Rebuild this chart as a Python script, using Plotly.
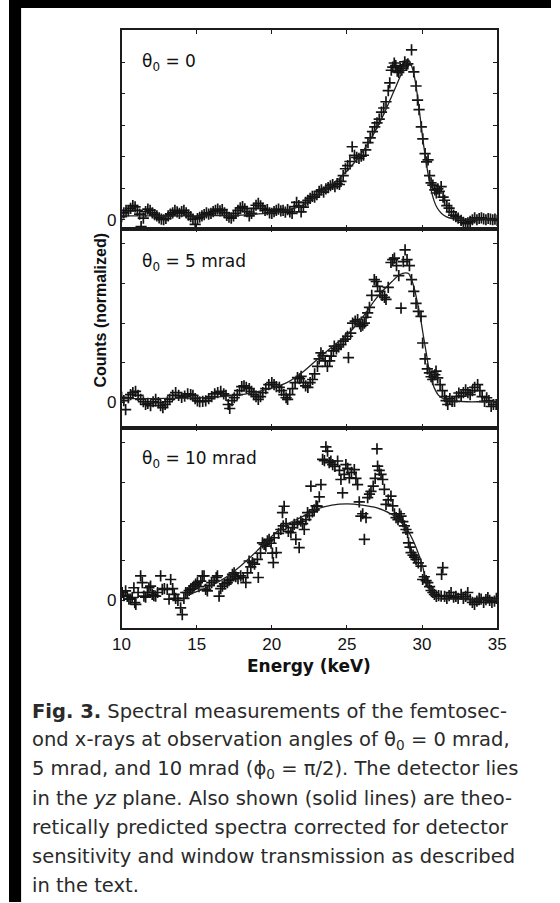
import plotly.graph_objects as go

# ---------------- data ----------------
# Panel 1: theta0 = 0
E1 = [10.0, 10.15, 10.3, 10.45, 10.6, 10.75, 10.9, 11.05, 11.2, 11.3, 11.45, 11.6, 11.75, 11.9, 12.05,
      12.2, 12.35, 12.5, 12.65, 12.8, 12.95, 13.1, 13.25, 13.4, 13.55, 13.7, 13.85, 14.0, 14.15, 14.3,
      14.45, 14.6, 14.75, 14.9, 15.05, 15.2, 15.35, 15.5, 15.65, 15.8, 15.95, 16.1, 16.25, 16.4, 16.55,
      16.7, 16.85, 17.0, 17.15, 17.3, 17.45, 17.6, 17.75, 17.9, 18.05, 18.2, 18.35, 18.5, 18.65, 18.8,
      18.95, 19.1, 19.25, 19.4, 19.55, 19.7, 19.85, 20.0, 20.15, 20.3, 20.45, 20.6, 20.75, 20.9, 21.05,
      21.2, 21.35, 21.5, 21.65, 21.8, 21.95, 22.1, 22.25, 22.4, 22.55, 22.7, 22.85, 23.0, 23.15, 23.3,
      23.45, 23.6, 23.75, 23.9, 24.05, 24.2, 24.35, 24.5, 24.6, 24.75, 24.9, 25.05, 25.2, 25.35, 25.5,
      25.65, 25.8, 25.95, 26.1, 26.25, 26.4, 26.55, 26.7, 26.85, 27.0, 27.15, 27.3, 27.45, 27.6, 27.75,
      27.85, 27.95, 28.05, 28.15, 28.25, 28.35, 28.45, 28.55, 28.65, 28.75, 28.85, 28.95, 29.05, 29.3,
      29.45, 29.6, 29.7, 29.8, 29.95, 30.05, 30.2, 30.3, 30.4, 30.5, 30.6, 30.72, 30.85, 30.95, 31.05,
      31.15, 31.27, 31.4, 31.5, 31.65, 31.8, 31.95, 32.1, 32.25, 32.4, 32.6, 32.75, 32.9, 33.05, 33.2,
      33.35, 33.5, 33.65, 33.8, 33.95, 34.1, 34.25, 34.4, 34.55, 34.7, 34.85, 35.0]
C1 = [0.10, 0.22, 0.30, 0.28, 0.36, 0.45, 0.41, 0.30, 0.18, -0.22, 0.05, 0.26, 0.34, 0.30, 0.22,
      0.16, 0.12, 0.06, 0.02, 0.00, 0.04, 0.12, 0.18, 0.22, 0.30, 0.25, 0.20, 0.26, 0.30, 0.22,
      0.15, 0.10, 0.02, -0.15, 0.04, 0.08, 0.12, 0.16, 0.22, 0.18, 0.20, 0.26, 0.30, 0.34, 0.28,
      0.32, 0.22, 0.14, 0.08, 0.05, 0.12, 0.20, 0.30, 0.38, 0.42, 0.35, 0.26, 0.12, 0.20, 0.36,
      0.46, 0.52, 0.44, 0.36, 0.30, 0.32, 0.22, 0.20, 0.26, 0.30, 0.34, 0.28, 0.30, 0.24, 0.32,
      0.25, 0.20, 0.42, 0.55, 0.45, 0.25, 0.40, 0.55, 0.62, 0.68, 0.74, 0.72, 0.80, 0.90, 0.95,
      0.88, 0.98, 1.02, 1.08, 1.12, 1.05, 1.15, 1.12, 1.22, 1.40, 1.62, 1.72, 1.85, 2.32, 2.05,
      1.98, 1.95, 2.02, 2.05, 2.22, 2.45, 2.60, 2.80, 2.95, 3.08, 3.20, 3.42, 3.55, 3.75, 4.10,
      4.35, 4.75, 4.85, 4.98, 4.90, 4.72, 4.68, 4.82, 4.75, 4.88, 5.02, 4.92, 4.95, 5.40,
      4.70, 4.25, 3.80, 3.50, 2.95, 2.57, 2.10, 1.84, 1.90, 1.40, 1.17, 1.10, 0.95, 0.85, 0.98,
      0.90, 1.05, 0.72, 0.62, 0.45, 0.37, 0.25, 0.15, 0.10, 0.05, -0.02, -0.08, -0.12, -0.10, -0.05,
      0.00, 0.06, 0.00, 0.04, 0.06, 0.03, 0.00, 0.04, 0.02, 0.00, 0.02, -0.02]
L1E = [10, 12, 14, 16, 18, 19, 20, 21, 22, 22.5, 23, 23.5, 24, 24.5, 25, 25.5, 26, 26.5, 27, 27.5,
       28, 28.5, 28.8, 29.0, 29.1, 29.2, 29.4, 29.6, 29.8, 30.0, 30.2, 30.4, 30.6, 30.8, 31.0, 31.3,
       31.6, 32, 33, 34, 35]
L1V = [0.12, 0.12, 0.12, 0.13, 0.15, 0.18, 0.22, 0.30, 0.45, 0.60, 0.78, 0.95, 1.12, 1.32, 1.55,
       1.82, 2.13, 2.50, 2.92, 3.40, 3.95, 4.50, 4.85, 5.05, 5.08, 5.00, 4.75, 4.25, 3.55, 2.75,
       2.05, 1.45, 0.95, 0.60, 0.38, 0.20, 0.10, 0.04, 0.02, 0.02, 0.02]

# Panel 2: theta0 = 5 mrad
E2 = [10.0, 10.15, 10.27, 10.45, 10.6, 10.75, 10.93, 11.1, 11.27, 11.45, 11.6, 11.75, 11.93, 12.1, 12.27,
      12.45, 12.6, 12.75, 12.9, 13.05, 13.2, 13.4, 13.6, 13.8, 14.0, 14.2, 14.4, 14.6, 14.75, 14.9,
      15.05, 15.2, 15.4, 15.6, 15.8, 16.0, 16.2, 16.4, 16.6, 16.8, 16.95, 17.1, 17.2, 17.35, 17.5,
      17.7, 17.85, 18.0, 18.15, 18.3, 18.5, 18.65, 18.8, 18.95, 19.1, 19.25, 19.4, 19.6, 19.8, 20.0,
      20.15, 20.3, 20.5, 20.65, 20.8, 20.95, 21.05, 21.2, 21.38, 21.55, 21.71, 21.85, 21.95, 22.1, 22.25,
      22.4, 22.55, 22.71, 22.85, 23.04, 23.15, 23.27, 23.4, 23.55, 23.7, 23.85, 23.95, 24.1, 24.16, 24.3,
      24.45, 24.6, 24.75, 24.9, 25.04, 25.1, 25.25, 25.38, 25.55, 25.71, 25.85, 25.93, 26.05, 26.16, 26.27,
      26.38, 26.5, 26.65, 26.82, 26.95, 27.04, 27.2, 27.35, 27.5, 27.6, 27.75, 27.93, 28.05, 28.16, 28.3,
      28.45, 28.6, 28.75, 28.87, 29.0, 29.16, 29.3, 29.45, 29.6, 29.75, 29.93, 30.04, 30.2, 30.35, 30.49,
      30.6, 30.71, 30.85, 30.93, 31.04, 31.2, 31.35, 31.5, 31.6, 31.71, 31.85, 32.0, 32.16, 32.3, 32.45,
      32.6, 32.75, 32.9, 33.05, 33.2, 33.35, 33.5, 33.7, 33.85, 34.0, 34.16, 34.3, 34.45, 34.6, 34.75,
      34.93]
C2 = [0.13, 0.05, -0.18, 0.12, 0.20, 0.25, 0.28, 0.18, 0.08, 0.02, -0.05, -0.02, -0.08, 0.02, 0.08,
      0.00, -0.08, -0.13, -0.05, 0.02, 0.08, 0.18, 0.25, 0.18, 0.13, 0.16, 0.22, 0.20, 0.18, 0.10,
      0.04, 0.02, 0.03, 0.04, 0.10, 0.15, 0.22, 0.25, 0.28, 0.22, 0.18, -0.05, -0.15, 0.05, 0.12,
      0.20, 0.30, 0.40, 0.42, 0.38, 0.35, 0.28, 0.20, 0.15, 0.08, 0.15, 0.25, 0.35, 0.45, 0.50,
      0.45, 0.40, 0.38, 0.30, 0.20, 0.12, 0.08, 0.20, 0.35, 0.50, 0.63, 0.60, 0.66, 0.50, 0.42,
      0.38, 0.50, 0.58, 0.72, 0.91, 1.10, 1.25, 1.18, 1.05, 0.91, 1.05, 1.17, 1.30, 1.42, 1.35,
      1.40, 1.46, 1.55, 1.60, 1.67, 1.13, 1.75, 2.00, 2.05, 2.09, 1.98, 1.92, 1.95, 2.00, 2.15,
      2.26, 2.40, 2.70, 3.10, 3.05, 2.93, 2.80, 2.70, 2.65, 2.60, 2.90, 3.53, 3.60, 3.64, 3.45,
      3.20, 2.38, 3.55, 3.85, 3.60, 3.45, 3.10, 2.80, 2.50, 2.30, 2.17, 1.50, 1.10, 0.85, 0.75,
      0.65, 0.58, 0.70, 0.79, 0.62, 0.45, 0.30, 0.15, 0.05, -0.05, 0.10, 0.03, 0.03, 0.15, 0.24,
      0.16, 0.25, 0.32, 0.25, 0.20, 0.30, 0.38, 0.45, 0.30, 0.15, 0.03, 0.12, 0.05, -0.10, -0.05,
      -0.05]
L2E = [10, 12, 14, 16, 17, 18, 19, 20, 21, 22, 23, 24, 25, 26, 27, 28, 28.5, 28.9, 29.1, 29.3, 29.5,
       29.7, 29.9, 30.1, 30.3, 30.5, 30.7, 30.9, 31.1, 31.5, 32, 33, 34, 35]
L2V = [0.10, 0.10, 0.11, 0.13, 0.16, 0.20, 0.27, 0.36, 0.50, 0.75, 1.08, 1.40, 1.70, 2.13, 2.65,
       3.05, 3.22, 3.27, 3.25, 3.10, 2.85, 2.50, 2.12, 1.65, 1.20, 0.75, 0.48, 0.30, 0.18, 0.08,
       0.04, 0.02, 0.02, 0.02]

# Panel 3: theta0 = 10 mrad
E3 = [10.04, 10.15, 10.27, 10.38, 10.49, 10.6, 10.71, 10.82, 10.88, 10.95, 11.1, 11.27, 11.38, 11.49, 11.6,
      11.72, 11.82, 11.93, 12.04, 12.15, 12.27, 12.4, 12.6, 12.71, 12.85, 13.04, 13.16, 13.27, 13.4, 13.5,
      13.6, 13.75, 13.93, 14.04, 14.15, 14.27, 14.38, 14.5, 14.6, 14.72, 14.82, 14.93, 15.05, 15.15, 15.27,
      15.38, 15.49, 15.6, 15.71, 15.85, 16.0, 16.16, 16.3, 16.38, 16.49, 16.6, 16.71, 16.85, 17.04, 17.15,
      17.27, 17.38, 17.49, 17.6, 17.75, 17.93, 18.1, 18.27, 18.38, 18.49, 18.6, 18.71, 18.85, 19.04, 19.1,
      19.25, 19.38, 19.49, 19.6, 19.71, 19.82, 19.95, 20.04, 20.1, 20.16, 20.3, 20.45, 20.6, 20.71, 20.76,
      20.82, 20.95, 21.1, 21.27, 21.38, 21.49, 21.6, 21.71, 21.82, 21.93, 22.05, 22.16, 22.27, 22.38, 22.5,
      22.6, 22.7, 22.82, 22.95, 23.04, 23.16, 23.27, 23.38, 23.5, 23.6, 23.71, 23.82, 23.93, 24.05, 24.2,
      24.38, 24.5, 24.6, 24.71, 24.82, 24.93, 25.05, 25.16, 25.3, 25.49, 25.6, 25.71, 25.82, 25.93, 26.05,
      26.16, 26.27, 26.38, 26.5, 26.6, 26.75, 26.88, 27.0, 27.04, 27.15, 27.27, 27.38, 27.49, 27.6, 27.75,
      27.93, 28.05, 28.16, 28.27, 28.4, 28.5, 28.6, 28.72, 28.82, 28.93, 29.04, 29.1, 29.2, 29.27, 29.4,
      29.5, 29.6, 29.75, 29.93, 30.04, 30.15, 30.27, 30.38, 30.5, 30.6, 30.72, 30.82, 30.95, 31.1, 31.27,
      31.3, 31.38, 31.5, 31.65, 31.8, 31.93, 32.1, 32.25, 32.4, 32.6, 32.75, 32.9, 33.04, 33.2, 33.35,
      33.49, 33.65, 33.8, 33.93, 34.1, 34.25, 34.38, 34.5, 34.65, 34.82, 34.95]
C3 = [0.20, 0.12, 0.24, 0.10, 0.03, 0.03, 0.07, 0.32, -0.06, -0.10, 0.20, 0.62, 0.45, 0.11, 0.08,
      0.20, 0.32, 0.36, 0.15, 0.12, 0.11, 0.20, 0.62, 0.28, 0.30, 0.28, 0.03, 0.53, 0.30, 0.15,
      0.05, 0.00, -0.19, -0.36, 0.05, 0.20, 0.20, 0.25, 0.28, 0.30, 0.36, 0.41, 0.45, 0.35, 0.49,
      0.62, 0.62, 0.28, 0.24, 0.38, 0.45, 0.50, 0.58, 0.62, 0.11, 0.30, 0.36, 0.42, 0.45, 0.50,
      0.53, 0.66, 0.70, 0.60, 0.55, 0.62, 0.58, 0.45, 0.70, 1.00, 0.85, 0.96, 0.92, 1.04, 0.58,
      1.20, 1.46, 1.42, 1.38, 1.51, 1.55, 1.45, 1.20, 0.96, 1.59, 1.21, 1.70, 1.80, 2.23, 1.89,
      2.39, 1.95, 1.75, 1.72, 1.85, 1.93, 1.55, 1.97, 1.34, 2.01, 1.95, 1.80, 2.05, 2.23, 2.15,
      2.90, 2.25, 2.30, 2.40, 2.39, 2.63, 2.94, 3.58, 3.55, 3.90, 3.79, 3.50, 3.54, 3.45, 3.40,
      3.54, 3.30, 3.07, 2.73, 3.20, 3.45, 3.35, 3.11, 3.25, 3.32, 3.10, 2.94, 2.50, 2.14, 2.20,
      1.55, 2.10, 2.61, 2.70, 2.77, 2.90, 3.10, 3.85, 3.41, 3.30, 3.20, 3.07, 2.82, 2.44, 2.55,
      2.65, 2.40, 2.20, 2.10, 2.05, 2.20, 2.14, 2.00, 1.89, 1.80, 1.72, 1.46, 1.35, 1.21, 1.15,
      1.10, 1.04, 0.95, 0.87, 0.53, 0.60, 0.50, 0.45, 0.35, 0.25, 0.20, 0.15, 0.10, 0.12, 0.11,
      0.66, 0.83, 0.10, 0.05, 0.12, 0.20, 0.08, 0.10, 0.05, 0.15, 0.05, 0.10, 0.20, 0.02, -0.05,
      -0.10, -0.02, 0.05, 0.03, -0.05, 0.02, 0.07, 0.00, -0.05, -0.02, 0.05]
L3E = [14.2, 15, 16, 17, 18, 19, 20, 21, 22, 23, 24, 25, 26, 27, 28, 28.5, 29, 29.4, 29.7, 30.0,
       30.2, 30.4, 30.6, 30.8, 31.2, 32, 33, 34, 35]
L3V = [0.12, 0.22, 0.38, 0.60, 0.90, 1.25, 1.63, 1.93, 2.12, 2.32, 2.42, 2.45, 2.42, 2.35, 2.18,
       2.02, 1.80, 1.52, 1.25, 0.92, 0.60, 0.35, 0.18, 0.08, 0.04, 0.03, 0.03, 0.03, 0.03]

PANEL_LABELS = ["θ<sub>0</sub> = 0", "θ<sub>0</sub> = 5 mrad", "θ<sub>0</sub> = 10 mrad"]
X_TICKS = [10, 15, 20, 25, 30, 35]
Y_TICKS = [[0, 1, 2, 3, 4, 5], [0, 1, 2, 3, 4], [0, 1, 2, 3, 4]]
X_TITLE = "Energy (keV)"
Y_TITLE = "Counts (normalized)"
CAPTION = [
    "<b>Fig. 3.</b> Spectral measurements of the femtosec-",
    "ond x-rays at observation angles of θ<sub>0</sub> = 0 mrad,",
    "5 mrad, and 10 mrad (ϕ<sub>0</sub> = π/2). The detector lies",
    "in the <i>yz</i> plane. Also shown (solid lines) are theo-",
    "retically predicted spectra corrected for detector",
    "sensitivity and window transmission as described",
    "in the text.",
]

# ---------------- layout ----------------
W, H = 560, 903
def fx(p):
    return p / W
def fy(p):
    return 1 - p / H

XDOM = [fx(116.3), fx(504.4)]
PANELS = [  # (top px, bottom px, y range)
    (30, 229, [-0.286, 6.03]),
    (229, 428, [-0.63, 4.38]),
    (428, 629, [-0.71, 4.39]),
]
series = [(E1, C1, L1E, L1V), (E2, C2, L2E, L2V), (E3, C3, L3E, L3V)]

AX = "#1c1c1c"
fig = go.Figure()
layout = dict(width=W, height=H, margin=dict(l=0, r=0, t=0, b=0), autosize=False,
              paper_bgcolor="white", plot_bgcolor="white", showlegend=False,
              font=dict(family="Liberation Sans, Arial, sans-serif", color="#111"))

for i, (top, bot, yr) in enumerate(PANELS):
    n = "" if i == 0 else str(i + 1)
    E, C, LE, LV = series[i]
    fig.add_trace(go.Scatter(x=E, y=C, mode="markers", xaxis="x" + n, yaxis="y" + n,
                             marker=dict(symbol="cross-thin", size=8,
                                         line=dict(width=1.7, color="#141414"))))
    fig.add_trace(go.Scatter(x=LE, y=LV, mode="lines", xaxis="x" + n, yaxis="y" + n,
                             line=dict(color="#202020", width=1.3, shape="spline", smoothing=0.8)))
    last = (i == 2)
    layout["xaxis" + n] = dict(domain=XDOM, anchor="y" + n, range=[10, 35], tickvals=X_TICKS,
                               showticklabels=last, ticks="inside", ticklen=4, tickwidth=1,
                               tickcolor=AX, showline=True, linecolor=AX, linewidth=1.5,
                               mirror="ticks", showgrid=False, zeroline=False,
                               tickfont=dict(size=17, color="#111"))
    layout["yaxis" + n] = dict(domain=[fy(bot), fy(top)], anchor="x" + n, range=yr,
                               tickvals=Y_TICKS[i], ticktext=["0"] + [""] * (len(Y_TICKS[i]) - 1),
                               ticks="inside", ticklen=4, tickwidth=1, tickcolor=AX,
                               showline=True, linecolor=AX, linewidth=1.5, mirror="ticks",
                               showgrid=False, zeroline=False,
                               tickfont=dict(size=17, color="#111"))

ann = []
label_y = [63, 263, 460]
for i, t in enumerate(PANEL_LABELS):
    ann.append(dict(text=t, x=fx(135), y=fy(label_y[i]), xref="paper", yref="paper",
                    xanchor="left", yanchor="middle", showarrow=False,
                    font=dict(family="DejaVu Sans", size=17, color="#111")))
ann.append(dict(text="<b>" + Y_TITLE + "</b>", x=fx(95), y=fy(310), xref="paper", yref="paper",
                textangle=-90, showarrow=False, xanchor="center", yanchor="middle",
                font=dict(family="Liberation Sans", size=16, color="#111")))
ann.append(dict(text="<b>" + X_TITLE + "</b>", x=fx(310), y=fy(667), xref="paper", yref="paper",
                showarrow=False, xanchor="center", yanchor="middle",
                font=dict(family="DejaVu Sans", size=17, color="#111")))
for k, line in enumerate(CAPTION):
    ann.append(dict(text=line, x=fx(22), y=fy(712 + 29 * k), xref="paper", yref="paper",
                    showarrow=False, xanchor="left", yanchor="middle",
                    font=dict(family="DejaVu Sans", size=19.5, color="#2a2a2a")))
layout["annotations"] = ann
layout["shapes"] = [
    dict(type="rect", xref="paper", yref="paper", x0=0, x1=fx(12.5), y0=0, y1=1,
         fillcolor="black", line=dict(width=0), layer="above"),
    dict(type="rect", xref="paper", yref="paper", x0=0, x1=1, y0=fy(8), y1=1,
         fillcolor="black", line=dict(width=0), layer="above"),
]
fig.update_layout(**layout)
fig.write_html("out.html")
